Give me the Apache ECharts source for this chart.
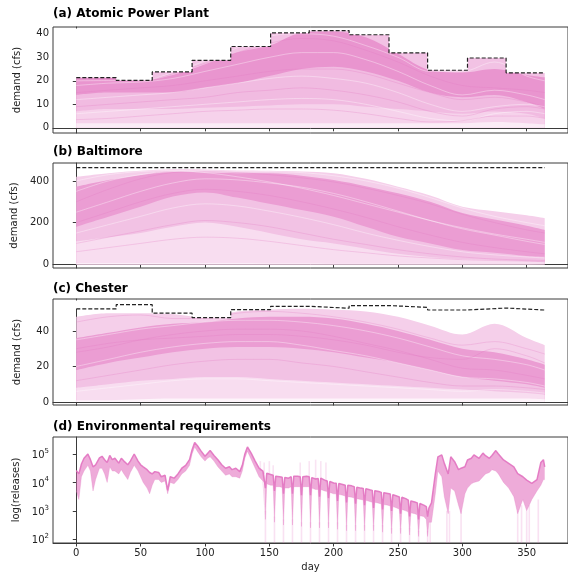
<!DOCTYPE html>
<html><head><meta charset="utf-8">
<script src="https://cdn.jsdelivr.net/npm/echarts@6/dist/echarts.min.js"></script>
<style>html,body{margin:0;padding:0;background:#fff}#c{width:568px;height:576px}</style>
</head><body><div id="c"></div>
<script>
// ---------- data ----------
const dayTicks = [0, 50, 100, 150, 200, 250, 300, 350];
const ensDays = [0, 25, 50, 75, 100, 125, 150, 175, 200, 225, 250, 275, 300, 325, 350, 364];

// (a) Atomic Power Plant: monthly upper bound and ensemble quantile curves (cfs)
const aStepDays = [0, 31, 59, 90, 120, 151, 181, 212, 243, 273, 304, 334, 364];
const aBound    = [21.4, 20.2, 23.8, 28.7, 34.6, 40.4, 41.4, 39.6, 31.9, 24.5, 29.7, 23.4, 23.4];
const aQ1 = [21.4, 21.4, 20.2, 22.5, 27.0, 32.0, 35.0, 40.4, 41.0, 38.5, 31.5, 24.5, 23.5, 25.0, 22.5, 21.5];
const aQ2 = [14.0, 15.0, 15.0, 15.0, 17.0, 19.0, 22.0, 25.0, 26.0, 24.0, 20.0, 15.0, 13.0, 14.0, 11.0, 8.0];
const aQ3 = [7.0, 8.0, 8.0, 8.0, 8.5, 9.0, 9.5, 10.0, 10.0, 9.0, 8.0, 7.0, 6.0, 7.0, 6.0, 4.0];
const aQ4 = [2.0, 2.0, 2.0, 2.0, 2.0, 2.0, 2.0, 2.0, 2.0, 2.0, 2.0, 2.0, 2.0, 2.5, 2.0, 1.5];
const aTraces = [
  [21.4, 21.0, 20.2, 23.0, 27.5, 32, 36, 38, 37, 33, 28, 22, 18, 17, 16, 15],
  [18, 19, 19.5, 21, 24, 27, 30, 32, 32, 29, 24, 18, 14, 16, 14, 12],
  [15, 16, 17, 18, 20, 22, 24, 25, 25, 23, 19, 15, 12, 13, 11, 9],
  [12, 13, 14, 15, 17, 19, 21, 22, 21, 19, 15, 10, 7, 9, 10, 9],
  [9, 10, 11, 12, 13, 15, 16, 17, 16, 14, 11, 7, 5, 8, 9, 8],
  [6, 7, 8, 9, 10, 11, 12, 12.5, 12, 10, 7, 4, 3, 6, 7, 6],
  [3.5, 4, 5, 6, 7, 7.5, 8, 8, 7.5, 6, 4, 2.5, 3, 5, 5, 4],
  [20, 20.1, 20.1, 23.5, 28.5, 34, 39, 40, 39, 35, 30, 24, 24, 28, 22, 20]
];
const aTicks = [0, 10, 20, 30, 40];

// (b) Baltimore
const bBound = 464;
const bMax = [420, 437, 449, 456, 455, 450, 449, 445, 437, 410, 372, 330, 276, 255, 235, 221];
const bQ1  = [372, 404, 429, 445, 440, 437, 437, 425, 404, 375, 341, 300, 246, 215, 185, 165];
const bQ2  = [180, 228, 276, 325, 345, 320, 290, 260, 228, 180, 132, 100, 68, 55, 40, 36];
const bQ3  = [110, 130, 150, 180, 200, 180, 150, 120, 100, 75, 50, 35, 25, 20, 15, 12];
const bMin = [5, 5, 5, 5, 5, 5, 4, 4, 3, 3, 2, 2, 1, 1, 1, 1];
const bTraces = [
  [300, 360, 410, 440, 445, 440, 430, 415, 395, 365, 330, 290, 240, 200, 165, 150],
  [250, 300, 350, 390, 410, 405, 390, 370, 340, 300, 255, 210, 170, 140, 110, 95],
  [200, 250, 300, 340, 360, 350, 330, 300, 265, 225, 180, 140, 105, 80, 60, 50],
  [150, 190, 230, 270, 290, 280, 255, 225, 190, 150, 115, 85, 60, 45, 35, 30],
  [100, 130, 160, 190, 210, 200, 180, 150, 120, 95, 70, 50, 35, 25, 20, 18],
  [400, 430, 445, 450, 440, 420, 395, 365, 330, 290, 250, 210, 175, 145, 120, 105],
  [60, 80, 100, 120, 130, 125, 110, 90, 70, 55, 40, 30, 22, 18, 15, 12],
  [350, 400, 430, 445, 448, 447, 445, 440, 425, 400, 365, 320, 270, 230, 200, 185]
];
const bTicks = [0, 200, 400];

// (c) Chester
const cStepDays = [0, 31, 59, 90, 120, 151, 181, 212, 243, 273, 304, 334, 364];
const cBound    = [52.4, 54.8, 50.0, 47.5, 52.0, 53.9, 52.8, 54.3, 53.3, 51.8, 52.9, 51.8, 51.8];
const cMax = [48, 50, 50, 49.5, 47.5, 51, 52, 52.5, 52, 51, 48, 43, 38, 44, 36, 32];
const cQ1  = [36, 39, 42, 44, 45, 47, 48, 48, 47, 44, 40, 35, 30, 28, 24, 21];
const cQ2  = [18, 22, 25, 28, 30, 31, 31, 30, 28, 25, 22, 18, 14, 12, 10, 8];
const cQ3  = [8, 10, 12, 13, 14, 14, 13, 12, 11, 10, 9, 8, 7, 6, 5, 4];
const cMin = [1, 1, 1.5, 2, 2, 2, 2, 2, 2, 2, 2, 2, 2, 2, 2, 1.5];
const cTraces = [
  [45, 48, 49, 47, 47, 50, 51, 50, 48, 45, 41, 36, 32, 34, 30, 27],
  [35, 38, 41, 43, 45, 46, 46, 45, 43, 40, 36, 31, 26, 24, 21, 18],
  [28, 31, 35, 38, 40, 41, 41, 40, 37, 33, 29, 24, 19, 18, 15, 13],
  [20, 24, 28, 31, 33, 34, 34, 32, 29, 26, 22, 18, 14, 13, 11, 9],
  [12, 15, 18, 21, 23, 24, 24, 22, 20, 17, 14, 11, 9, 9, 8, 7],
  [6, 8, 10, 12, 13, 13, 12, 11, 10, 9, 8, 7, 6, 7, 6, 5],
  [30, 33, 35, 36, 37, 38, 38, 37, 35, 32, 28, 25, 24, 30, 26, 22]
];
const cTicks = [0, 20, 40];

// (d) Environmental requirements: [day, log10 upper edge, log10 lower edge] of the release band
const dBand = [
 [0,4.42,3.7],[2,4.3,3.4],[4,4.65,4.2],[6,4.85,4.4],[9,5.0,4.6],[11,4.8,4.4],[13,4.55,3.7],[15,4.62,4.1],[18,4.86,4.5],[20,4.92,4.5],
 [22,4.8,4.3],[24,4.7,4.0],[26,4.95,4.55],[28,4.8,4.4],[30,4.85,4.4],[33,4.68,4.3],[35,4.85,4.45],[37,4.75,4.3],[40,4.62,4.1],[42,4.75,4.35],
 [45,5.0,4.6],[48,4.75,4.4],[50,4.62,4.2],[52,4.55,4.0],[55,4.45,3.8],[57,4.35,3.6],[59,4.3,3.9],[61,4.38,4.1],[64,4.35,4.1],[66,4.2,4.0],
 [69,4.25,4.05],[71,3.72,3.6],[73,4.2,4.0],[76,4.15,3.95],[79,4.3,4.1],[82,4.5,4.3],[85,4.6,4.4],[88,4.8,4.6],[90,5.15,5.0],[92,5.4,5.25],
 [94,5.3,5.1],[97,5.1,4.9],[100,4.92,4.75],[102,5.02,4.85],[104,5.12,4.9],[107,4.95,4.75],[110,4.8,4.55],[113,4.62,4.4],[116,4.5,4.25],[119,4.55,4.3],
 [121,4.45,4.2],[124,4.5,4.2],[127,4.38,4.15],[129,4.6,4.4],[131,5.0,4.85],[133,5.25,5.1],[136,5.02,4.8],[139,4.75,4.5],[142,4.5,4.2],
 [145,4.4,4.05],[146,4.35,4.0],[147,3.8,2.7],[148,4.32,3.95],[151,4.28,3.9],[153,4.25,3.9],[154,3.7,2.6],[155,4.22,3.85],[158,4.2,3.85],[160,4.18,3.82],
 [161,3.6,2.5],[162,4.17,3.8],[165,4.15,3.8],[167,4.2,3.85],[168,3.6,2.5],[169,4.22,3.85],[172,4.22,3.85],[174,4.2,3.85],[175,3.55,2.45],[176,4.2,3.85],
 [179,4.22,3.85],[181,4.2,3.85],[182,3.55,2.4],[183,4.17,3.8],[186,4.12,3.75],[188,4.14,3.75],[189,3.5,2.4],[190,4.15,3.75],[193,4.08,3.7],[195,4.05,3.68],
 [196,3.45,2.4],[197,4.03,3.65],[200,3.98,3.6],[202,3.97,3.6],[203,3.35,2.35],[204,3.96,3.58],[207,3.93,3.55],[209,3.9,3.52],[210,3.3,2.3],[211,3.9,3.5],
 [214,3.88,3.48],[216,3.85,3.45],[217,3.25,2.3],[218,3.83,3.43],[221,3.8,3.4],[223,3.79,3.38],[224,3.2,2.3],[225,3.78,3.37],[228,3.74,3.33],[230,3.72,3.3],
 [231,3.1,2.3],[232,3.71,3.3],[235,3.68,3.27],[237,3.65,3.24],[238,3.05,2.25],[239,3.64,3.22],[242,3.61,3.2],[244,3.59,3.17],[245,3.0,2.2],[246,3.57,3.15],
 [249,3.52,3.1],[251,3.49,3.06],[252,2.9,2.2],[253,3.48,3.05],[256,3.43,3.0],[258,3.38,2.96],[259,2.8,2.15],[260,3.35,2.93],[263,3.31,2.9],[265,3.28,2.86],
 [266,2.7,2.1],[267,3.26,2.83],[270,3.2,2.8],[272,3.15,2.7],[273,2.8,2.1],[274,3.1,2.6],[276,3.28,2.6],[279,4.3,3.6],[281,4.9,4.4],
 [284,4.97,4.2],[286,4.67,3.5],[289,4.3,2.9],[291,4.9,3.8],[294,4.73,3.7],[297,4.45,3.2],[299,4.5,2.9],[302,4.55,3.6],[304,4.79,3.8],[307,4.85,3.95],
 [309,4.97,4.0],[313,4.85,4.05],[316,5.03,4.2],[318,4.94,4.3],[321,4.85,4.35],[323,4.95,4.45],[326,5.12,4.4],[328,5.0,4.3],[332,4.79,4.0],[336,4.67,3.8],
 [340,4.55,3.5],[343,4.31,2.9],[347,4.2,3.4],[350,4.08,3.0],[354,3.97,3.4],[358,4.1,3.7],[361,4.7,3.9],[363,4.8,4.1],[364,4.55,4.1]
];
// faint columns reaching the bottom: [day, log10 top]
const dColumns = [[147,3.0],[154,2.8],[161,2.7],[168,2.7],[175,2.6],[182,2.6],[189,2.6],[196,2.6],[203,2.6],[210,2.5],[217,2.5],[224,2.5],
  [231,2.5],[238,2.5],[245,2.4],[252,2.4],[259,2.4],[266,2.3],[273,2.3],[275,2.6],[288,3.0],[290,3.0],[299,3.0],[343,3.0],[346,3.2],[350,3.0],[352,3.2],[359,3.4]];
// faint upward spikes: [day, log10 base, log10 top]
const dUp = [[143,4.4,4.75],[146,4.3,4.7],[150,4.3,4.75],[153,4.2,4.6],[174,4.2,4.7],[181,4.2,4.75],[186,4.1,4.8],[190,4.1,4.75],[194,4.0,4.7]];
const dTicks = [100, 1000, 10000, 100000];
const dMinor = [200,300,400,500,600,700,800,900,2000,3000,4000,5000,6000,7000,8000,9000,20000,30000,40000,50000,60000,70000,80000,90000,200000,300000];

// ---------- styling helpers ----------
const PINK = [227, 119, 194];
const tint = a => `rgb(${Math.round(255 - a * (255 - PINK[0]))},${Math.round(255 - a * (255 - PINK[1]))},${Math.round(255 - a * (255 - PINK[2]))})`;
const P = (alpha) => `rgba(${PINK[0]},${PINK[1]},${PINK[2]},${alpha})`;
const NONE = 'rgba(0,0,0,0)';
const FONT = 'DejaVu Sans';
const AX = '#3a3a3a';
const pairs = (xs, ys) => xs.map((x, i) => [x, ys[i]]);

function areaLayer(idx, data, color, step) {
  return {
    type: 'line', xAxisIndex: idx, yAxisIndex: idx, data: data,
    smooth: step ? false : 0.35, step: step ? 'end' : false,
    symbol: 'none', silent: true, animation: false, z: 2,
    lineStyle: { width: 0, color: NONE, opacity: 0 },
    areaStyle: { color: color, opacity: 1, origin: 0 }
  };
}
// white fill above the monthly bound (the ensemble is clipped at the bound)
function maskAbove(idx, days, bound) {
  return {
    type: 'custom', xAxisIndex: idx, yAxisIndex: idx, data: [[days[0], bound[0]]],
    silent: true, animation: false, z: 4,
    renderItem: (params, api) => {
      const cs = params.coordSys;
      const top = cs.y + 1.5;
      const left = cs.x + 1.5;
      const pts = [];
      const first = api.coord([days[0], bound[0]]);
      pts.push([left, first[1]]);
      for (let i = 0; i < days.length - 1; i++) {
        pts.push(api.coord([days[i], bound[i]]));
        pts.push(api.coord([days[i + 1], bound[i]]));
      }
      const last = pts[pts.length - 1];
      pts.push([last[0] + 2, last[1]], [last[0] + 2, top], [left, top]);
      return { type: 'polygon', shape: { points: pts }, style: { fill: '#fff', stroke: null, lineWidth: 0 } };
    }
  };
}
function traceLayer(idx, ys, k) {
  return {
    type: 'line', xAxisIndex: idx, yAxisIndex: idx, data: pairs(ensDays, ys),
    smooth: 0.35, symbol: 'none', silent: true, animation: false, z: 3,
    lineStyle: { width: 0.8, color: k % 2 ? 'rgba(255,255,255,0.45)' : P(0.35) }
  };
}
function dashed(idx, data, step) {
  return {
    type: 'line', xAxisIndex: idx, yAxisIndex: idx, data: data, step: step ? 'end' : false,
    symbol: 'none', silent: true, animation: false, z: 5,
    lineStyle: { color: '#222', width: 1.2, type: [4, 2] }
  };
}

const grids = [
  { left: 53, width: 524, top: 27, height: 106 },
  { left: 53, width: 524, top: 163, height: 105 },
  { left: 53, width: 524, top: 299, height: 106 },
  { left: 53, width: 524, top: 437, height: 106 }
].map(g => Object.assign(g, { show: true, borderColor: AX, borderWidth: 1 }));

const xAxes = grids.map((g, i) => ({
  type: 'value', gridIndex: i, min: -18.1, max: 382.1,
  axisLine: { show: true, lineStyle: { color: AX, width: 1 } },
  axisTick: { show: true, length: 3.5, customValues: dayTicks, lineStyle: { color: AX } },
  axisLabel: { show: i === 3, customValues: dayTicks, fontFamily: FONT, fontSize: 10, color: '#222', margin: 5 },
  splitLine: { show: false },
  name: i === 3 ? 'day' : '', nameLocation: 'middle', nameGap: 19,
  nameTextStyle: { fontFamily: FONT, fontSize: 10, color: '#222' }
}));

function yAx(i, min, max, ticks) {
  return {
    type: 'value', gridIndex: i, min: min, max: max,
    axisLine: { show: true, lineStyle: { color: AX, width: 1 } },
    axisTick: { show: true, length: 3.5, customValues: ticks, lineStyle: { color: AX } },
    axisLabel: { customValues: ticks, fontFamily: FONT, fontSize: 10, color: '#222', margin: 4 },
    splitLine: { show: false },
    name: 'demand (cfs)', nameLocation: 'middle', nameRotate: 90, nameGap: 31,
    nameTextStyle: { fontFamily: FONT, fontSize: 10, color: '#222' }
  };
}
const yAxes = [
  yAx(0, -2.2, 42.9, aTicks),
  yAx(1, -18, 486, bTicks),
  yAx(2, -1.7, 58.0, cTicks),
  {
    type: 'log', logBase: 10, gridIndex: 3, min: 74.1, max: 396000,
    axisLine: { show: true, lineStyle: { color: AX, width: 1 } },
    axisTick: { show: true, length: 3.5, customValues: dTicks, lineStyle: { color: AX } },
    axisLabel: {
      customValues: dTicks, fontFamily: FONT, fontSize: 10, color: '#222', margin: 4,
      formatter: v => '{b|10}{s|' + Math.round(Math.log10(v)) + '}',
      rich: { b: { fontFamily: FONT, fontSize: 10, lineHeight: 13, verticalAlign: 'bottom' },
              s: { fontFamily: FONT, fontSize: 7, lineHeight: 8, verticalAlign: 'top' } }
    },
    splitLine: { show: false },
    name: 'log(releases)', nameLocation: 'middle', nameRotate: 90, nameGap: 31,
    nameTextStyle: { fontFamily: FONT, fontSize: 10, color: '#222' }
  },
  {
    type: 'log', logBase: 10, gridIndex: 3, min: 74.1, max: 396000,
    axisLine: { show: false }, axisLabel: { show: false }, splitLine: { show: false },
    axisTick: { show: true, length: 2, customValues: dMinor, lineStyle: { color: AX, width: 0.6 } }
  }
];

const titles = [
  ['(a) Atomic Power Plant', 8], ['(b) Baltimore', 146], ['(c) Chester', 283], ['(d) Environmental requirements', 421]
].map(([t, top]) => ({ text: t, left: 53, top: top, padding: 0,
  textStyle: { fontFamily: FONT, fontWeight: 'bold', fontSize: 12, color: '#000' } }));

const series = [];
// (a)
const aStep = pairs(aStepDays, aBound);
series.push(areaLayer(0, aStep, tint(0.45), true));
series.push(areaLayer(0, pairs(ensDays, aQ1), tint(0.78)));
series.push(areaLayer(0, pairs(ensDays, aQ2), tint(0.5)));
series.push(areaLayer(0, pairs(ensDays, aQ3), tint(0.33)));
series.push(areaLayer(0, pairs(ensDays, aQ4), tint(0.14)));
aTraces.forEach((t, k) => series.push(traceLayer(0, t, k)));
series.push(maskAbove(0, aStepDays, aBound));
series.push(dashed(0, pairs(aStepDays, aBound), true));
// (b)
series.push(areaLayer(1, pairs(ensDays, bMax), tint(0.35)));
series.push(areaLayer(1, pairs(ensDays, bQ1), tint(0.72)));
series.push(areaLayer(1, pairs(ensDays, bQ2), tint(0.45)));
series.push(areaLayer(1, pairs(ensDays, bQ3), tint(0.25)));
series.push(areaLayer(1, pairs(ensDays, bMin), tint(0.08)));
bTraces.forEach((t, k) => series.push(traceLayer(1, t, k)));
series.push(dashed(1, [[0, bBound], [364, bBound]], false));
// (c)
series.push(areaLayer(2, pairs(ensDays, cMax), tint(0.35)));
series.push(areaLayer(2, pairs(ensDays, cQ1), tint(0.72)));
series.push(areaLayer(2, pairs(ensDays, cQ2), tint(0.45)));
series.push(areaLayer(2, pairs(ensDays, cQ3), tint(0.25)));
series.push(areaLayer(2, pairs(ensDays, cMin), tint(0.08)));
cTraces.forEach((t, k) => series.push(traceLayer(2, t, k)));
series.push(maskAbove(2, cStepDays, cBound));
series.push(dashed(2, pairs(cStepDays, cBound), true));
// (d)
series.push({
  type: 'custom', xAxisIndex: 3, yAxisIndex: 3, data: dColumns.map(r => [r[0], Math.pow(10, r[1])]),
  silent: true, animation: false,
  renderItem: (params, api) => {
    const top = api.coord([api.value(0), api.value(1)]);
    const bottom = params.coordSys.y + params.coordSys.height;
    return { type: 'line', shape: { x1: top[0], y1: top[1], x2: top[0], y2: bottom },
      style: { stroke: P(0.22), lineWidth: 1.6 } };
  }
});
series.push({
  type: 'custom', xAxisIndex: 3, yAxisIndex: 3, data: dUp.map(r => [r[0], Math.pow(10, r[1]), Math.pow(10, r[2])]),
  silent: true, animation: false,
  renderItem: (params, api) => {
    const a = api.coord([api.value(0), api.value(1)]);
    const b = api.coord([api.value(0), api.value(2)]);
    return { type: 'line', shape: { x1: a[0], y1: a[1], x2: b[0], y2: b[1] },
      style: { stroke: P(0.2), lineWidth: 1.6 } };
  }
});
series.push({
  type: 'custom', xAxisIndex: 3, yAxisIndex: 3, data: [[0, 1000]], silent: true, animation: false,
  renderItem: (params, api) => {
    const pts = [];
    dBand.forEach(r => pts.push(api.coord([r[0], Math.pow(10, r[1])])));
    for (let i = dBand.length - 1; i >= 0; i--) pts.push(api.coord([dBand[i][0], Math.pow(10, dBand[i][2])]));
    return { type: 'polygon', shape: { points: pts }, style: { fill: P(0.62) } };
  }
});
series.push({
  type: 'line', xAxisIndex: 3, yAxisIndex: 3, data: dBand.map(r => [r[0], Math.pow(10, r[2])]),
  symbol: 'none', silent: true, animation: false,
  lineStyle: { color: P(0.35), width: 0.8 }
});
series.push({
  type: 'line', xAxisIndex: 3, yAxisIndex: 3, data: dBand.map(r => [r[0], Math.pow(10, r[1])]),
  symbol: 'none', silent: true, animation: false,
  lineStyle: { color: P(0.95), width: 1.5 }
});

const chart = echarts.init(document.getElementById('c'), null, { renderer: 'canvas' });
chart.setOption({
  animation: false, backgroundColor: '#fff',
  title: titles, grid: grids, xAxis: xAxes, yAxis: yAxes, series: series
});
</script></body></html>
